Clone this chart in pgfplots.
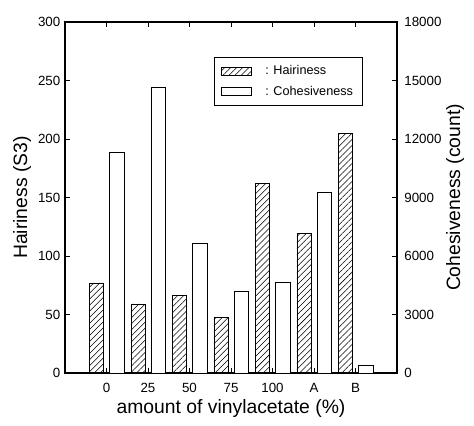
\documentclass[border=0pt]{standalone}
\usepackage{pgfplots}
\pgfplotsset{compat=1.18}
\usepackage{fontspec}
\setmainfont{Liberation Sans}
\usetikzlibrary{patterns.meta}
\begin{document}
\begin{tikzpicture}
\useasboundingbox (-48.75pt,-39pt) rectangle (306.75pt,279.75pt);
\pgfplotsset{
 common/.style={
  at={(0,0)}, anchor=south west, scale only axis, width=249pt, height=263.25pt,
  xmin=-1, xmax=7, ybar, bar width=0.34,
  tick align=inside, major tick length=4pt,
  /pgf/number format/assume math mode=true,
  /pgf/number format/1000 sep={},
  scaled y ticks=false,
  tick label style={font=\fontsize{10}{12}\selectfont},
  label style={font=\fontsize{14.5}{17}\selectfont},
  axis line style={line width=0.8pt},
  every tick/.style={line width=0.6pt, black},
 },
 hatch/.style={draw=black, line width=0.6pt, pattern={Lines[angle=45,distance=3.2pt,line width=0.4pt]}},
 plain/.style={draw=black, line width=0.6pt, fill=white},
}
\begin{axis}[common, ymin=0, ymax=300, ytick={0,50,...,300}, ytick pos=left,
 xtick={0,...,6}, xticklabels={0,25,50,75,100,A,B}, xtick pos=both,
 xticklabel style={yshift=-4pt},
 ylabel={Hairiness (S3)},
 ylabel style={at={(axis description cs:-0.1295,0.5)}, anchor=center},
 xlabel={amount of vinylacetate (\%)},
 xlabel style={at={(axis description cs:0.5,-0.1)}, anchor=center},
]
\addplot[hatch, bar shift=-0.24] coordinates {(0,77) (1,59) (2,66) (3,47.5) (4,162) (5,119) (6,205)};
\end{axis}
\begin{axis}[common, ymin=0, ymax=18000, ytick={0,3000,...,18000},
 axis y line*=right, hide x axis,
 yticklabel style={xshift=2pt},
 ylabel={Cohesiveness (count)},
 ylabel style={at={(axis description cs:1.1747,0.5)}, anchor=center},
 legend style={at={(axis description cs:0.449,0.900)}, anchor=north west, draw=black, line width=0.6pt,
   font=\fontsize{9.5}{11}\selectfont, row sep=3pt, inner xsep=5pt, inner ysep=4pt},
 legend cell align=left,
 legend image code/.code={\draw[#1] (0pt,-3pt) rectangle (22.5pt,3pt);},
]
\addlegendimage{hatch}
\addlegendentry{\hspace{8pt}: Hairiness}
\addplot[plain, bar shift=0.25] coordinates {(0,11330) (1,14640) (2,6670) (3,4180) (4,4660) (5,9240) (6,410)};
\addlegendentry{\hspace{8pt}: Cohesiveness}
\end{axis}
\end{tikzpicture}
\end{document}
